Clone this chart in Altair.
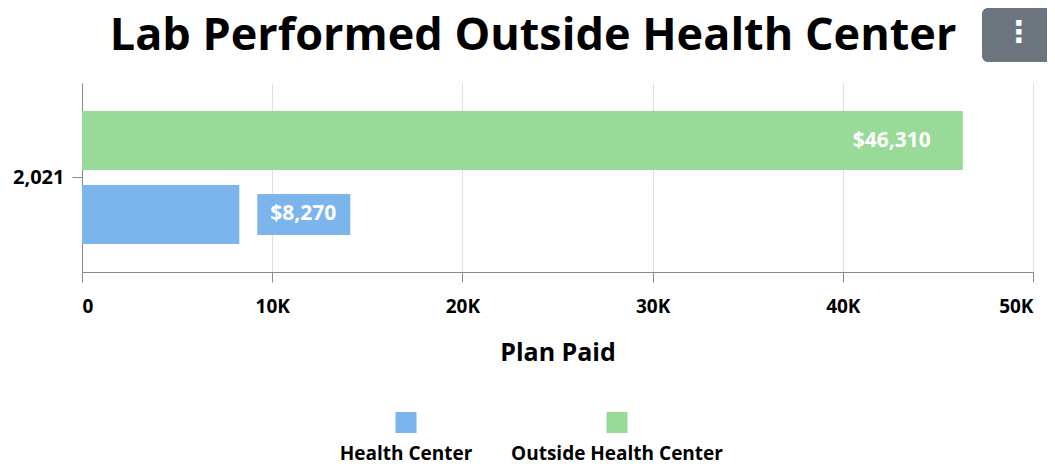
import altair as alt
import pandas as pd

# ---- data ----
years = [2021, 2021]
categories = ["Health Center", "Outside Health Center"]
plan_paid = [8270, 46310]
x_ticks = [0, 10000, 20000, 30000, 40000, 50000]
colors = ["#7cb5ec", "#98da97"]
title_text = "Lab Performed Outside Health Center"

df = pd.DataFrame({"year": years, "category": categories, "paid": plan_paid})
df["label"] = df["paid"].map(lambda v: f"${v:,.0f}")
legend_df = pd.DataFrame({"category": categories})

FONT = "Open Sans"

color_scale = alt.Scale(domain=categories, range=colors)
y_enc = alt.Y(
    "year:O",
    title=None,
    scale=alt.Scale(paddingInner=0, paddingOuter=0.21),
    axis=alt.Axis(
        labelExpr="format(datum.value, ',')",
        labelFont=FONT, labelFontSize=20, labelFontWeight="bold", labelColor="#000",
        tickSize=10, tickColor="#888", domainColor="#888", labelPadding=8,
        grid=False,
    ),
)
yoff = alt.YOffset(
    "category:N",
    sort=["Outside Health Center", "Health Center"],
    scale=alt.Scale(paddingInner=0.2, paddingOuter=0),
)
x_enc = alt.X(
    "paid:Q",
    title="Plan Paid",
    scale=alt.Scale(domain=[0, 50000], nice=False),
    axis=alt.Axis(
        values=x_ticks,
        labelExpr="datum.value == 0 ? '0' : format(datum.value / 1000, 'd') + 'K'",
        labelFont=FONT, labelFontSize=19, labelFontWeight="bold", labelColor="#000",
        titleFont=FONT, titleFontSize=25, titleFontWeight="bold", titleColor="#000",
        tickSize=10, tickColor="#888", domainColor="#888",
        gridColor="#e0e0e0", labelPadding=15, titlePadding=24,
    ),
)

bars = alt.Chart(df).mark_bar().encode(
    x=x_enc,
    y=y_enc,
    yOffset=yoff,
    color=alt.Color("category:N", scale=color_scale, legend=None),
)

green_label = alt.Chart(df).transform_filter(
    alt.datum.category == "Outside Health Center"
).mark_text(
    align="right", dx=-32, font=FONT, fontSize=21, fontWeight="bold", color="white"
).encode(x="paid:Q", y=alt.Y("year:O"), yOffset=yoff, text="label:N")

blue_box = alt.Chart(df).transform_filter(
    alt.datum.category == "Health Center"
).mark_bar(size=41, xOffset=18, x2Offset=111, color=colors[0]).encode(
    x="paid:Q", x2="paid:Q", y=alt.Y("year:O"), yOffset=yoff
)

blue_label = alt.Chart(df).transform_filter(
    alt.datum.category == "Health Center"
).mark_text(
    align="center", dx=64, font=FONT, fontSize=21, fontWeight="bold", color="white"
).encode(x="paid:Q", y=alt.Y("year:O"), yOffset=yoff, text="label:N")

main = alt.layer(bars, green_label, blue_box, blue_label)

# custom legend below the chart (symbol above label)
legend_x = alt.X(
    "category:N", axis=None,
    scale=alt.Scale(domain=categories, range=[324, 535], padding=0),
)
leg_sym = alt.Chart(legend_df).mark_square(size=441, opacity=1).encode(
    x=legend_x, y=alt.value(339.5),
    color=alt.Color("category:N", scale=color_scale, legend=None),
)
leg_txt = alt.Chart(legend_df).mark_text(
    font=FONT, fontSize=19, fontWeight="bold", color="#000", baseline="middle"
).encode(x=legend_x, y=alt.value(370.5), text="category:N")
legend = alt.layer(leg_sym, leg_txt)

# chart title (drawn as a text mark so it sits beside the menu button)
title = alt.Chart(alt.Data(values=[{"t": title_text}])).mark_text(
    font=FONT, fontSize=45, fontWeight="bold", color="#000",
    align="center", baseline="alphabetic",
).encode(x=alt.value(451), y=alt.value(-33), text="t:N")

# menu button (top-right)
btn = alt.Chart(alt.Data(values=[{"k": 1}])).mark_rect(
    cornerRadius=6, color="#6c757d"
).encode(x=alt.value(900), x2=alt.value(975), y=alt.value(-75), y2=alt.value(-21))
btn_dots = alt.Chart(alt.Data(values=[{"k": 1}])).mark_text(
    text="⋮", fontSize=30, fontWeight="bold", color="white", font="DejaVu Sans"
).encode(x=alt.value(937), y=alt.value(-50))

chart = alt.layer(main, legend, title, btn, btn_dots).resolve_scale(
    x="independent"
).properties(
    width=951,
    height=189,
    padding={"left": 74, "top": 75, "right": 14, "bottom": 192},
    autosize=alt.AutoSizeParams(type="none"),
).configure_view(stroke=None)

chart.save("out.html", embed_options={"renderer": "svg", "actions": False})
